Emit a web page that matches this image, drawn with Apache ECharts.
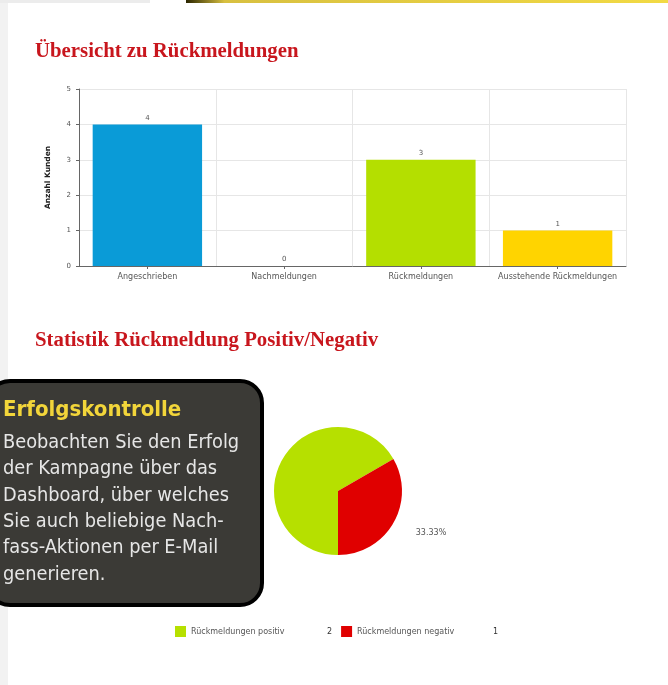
<!DOCTYPE html>
<html><head><meta charset="utf-8">
<script src="https://cdn.jsdelivr.net/npm/echarts@6/dist/echarts.min.js"></script>
<style>html,body{margin:0;padding:0;background:#fff;}#c{width:668px;height:685px;}</style>
</head><body><div id="c"></div>
<script>
var barCategories = ['Angeschrieben', 'Nachmeldungen', 'Rückmeldungen', 'Ausstehende Rückmeldungen'];
var barValues = [4, 0, 3, 1];
var barColors = ['#0a9bd7', '#b4df00', '#b4df00', '#ffd400'];
var yTicks = [0, 1, 2, 3, 4, 5];
var pieNames = ['Rückmeldungen positiv', 'Rückmeldungen negativ'];
var pieValues = [2, 1];
var pieColors = ['#b6e000', '#e00000'];
var titleTop = 'Übersicht zu Rückmeldungen';
var titlePie = 'Statistik Rückmeldung Positiv/Negativ';
var yAxisName = 'Anzahl Kunden';
var boxTitle = 'Erfolgskontrolle';
var boxLines = ['Beobachten Sie den Erfolg', 'der Kampagne über das', 'Dashboard, über welches', 'Sie auch beliebige Nach-', 'fass-Aktionen per E-Mail', 'generieren.'];

var chart = echarts.init(document.getElementById('c'), null, {renderer: 'canvas'});
var titleStyle = {fontFamily: 'Liberation Serif, DejaVu Serif, serif', fontWeight: 'bold', fontSize: 20.8, color: '#c8161d'};
var ff = 'DejaVu Sans, sans-serif';

var boxChildren = [{
  type: 'rect', shape: {x: -12, y: 381, width: 274, height: 224, r: 22},
  style: {fill: '#3b3a36', stroke: '#000', lineWidth: 4}
}, {
  type: 'text', x: 3, y: 410,
  style: {text: boxTitle, fill: '#f2d53a', font: 'bold 22px "DejaVu Sans Condensed", sans-serif', textVerticalAlign: 'middle'}
}];
boxLines.forEach(function (t, i) {
  boxChildren.push({
    type: 'text', x: 3, y: 443 + i * 26.3,
    style: {text: t, fill: '#e6e6e6', font: '19.8px "DejaVu Sans Condensed", sans-serif', textVerticalAlign: 'middle'}
  });
});

chart.setOption({
  animation: false,
  title: [
    {text: titleTop, left: 35, top: 41, padding: 0, textStyle: titleStyle},
    {text: titlePie, left: 35, top: 330, padding: 0, textStyle: titleStyle}
  ],
  grid: {left: 79, right: 42, top: 89, height: 177},
  xAxis: {
    type: 'category', data: barCategories,
    axisLine: {lineStyle: {color: '#666', width: 1}},
    axisTick: {show: true, alignWithLabel: true, length: 3, lineStyle: {color: '#666'}},
    axisLabel: {margin: 7, interval: 0, fontFamily: ff, fontSize: 8, color: '#555'},
    splitLine: {show: true, lineStyle: {color: '#e6e6e6'}}
  },
  yAxis: {
    type: 'value', min: 0, max: 5, interval: 1,
    name: yAxisName, nameLocation: 'middle', nameRotate: 90, nameGap: 27,
    nameTextStyle: {fontFamily: ff, fontWeight: 'bold', fontSize: 7.5, color: '#222'},
    axisLine: {show: true, lineStyle: {color: '#666'}},
    axisTick: {show: true, length: 3, lineStyle: {color: '#666'}},
    axisLabel: {margin: 8, fontFamily: ff, fontSize: 7, color: '#555',
      formatter: function (v) { return yTicks.indexOf(v) >= 0 ? String(v) : ''; }},
    splitLine: {show: true, lineStyle: {color: '#e6e6e6'}}
  },
  legend: {
    data: pieNames, left: 175, top: 626, padding: 0, itemWidth: 11, itemHeight: 11, itemGap: 9, icon: 'rect',
    formatter: function (name) { return '{n|' + name + '}{v|' + pieValues[pieNames.indexOf(name)] + '}'; },
    textStyle: {fontFamily: ff, fontSize: 8, color: '#555',
      rich: {n: {width: 136, fontSize: 8, color: '#555'}, v: {width: 6, fontSize: 8, color: '#333'}}}
  },
  series: [{
    type: 'bar', barWidth: '80%',
    data: barValues.map(function (v, i) { return {value: v, itemStyle: {color: barColors[i]}}; }),
    label: {show: true, position: 'top', distance: 3, fontFamily: ff, fontSize: 7, color: '#555'}
  }, {
    type: 'pie', center: [338, 491], radius: 64, startAngle: 270, clockwise: true,
    data: pieValues.map(function (v, i) {
      return {value: v, name: pieNames[i], itemStyle: {color: pieColors[i]}, label: {show: i === 1}};
    }),
    label: {position: 'outside', formatter: '{d}%', alignTo: 'none', fontFamily: ff, fontSize: 8, color: '#555'},
    labelLine: {show: false, length: 20, length2: 0}
  }],
  graphic: [{
    type: 'rect', z: 0, shape: {x: 0, y: 0, width: 8, height: 685}, style: {fill: '#f2f2f2'}
  }, {
    type: 'rect', z: 0, shape: {x: 0, y: 0, width: 150, height: 3}, style: {fill: '#ececec'}
  }, {
    type: 'rect', z: 0, shape: {x: 186, y: 0, width: 482, height: 3},
    style: {fill: new echarts.graphic.LinearGradient(0, 0, 1, 0, [{offset: 0, color: '#2a2500'}, {offset: 0.08, color: '#d8c040'}, {offset: 1, color: '#f2da44'}])}
  }, {
    type: 'group', z: 100, children: boxChildren
  }]
});
</script></body></html>
